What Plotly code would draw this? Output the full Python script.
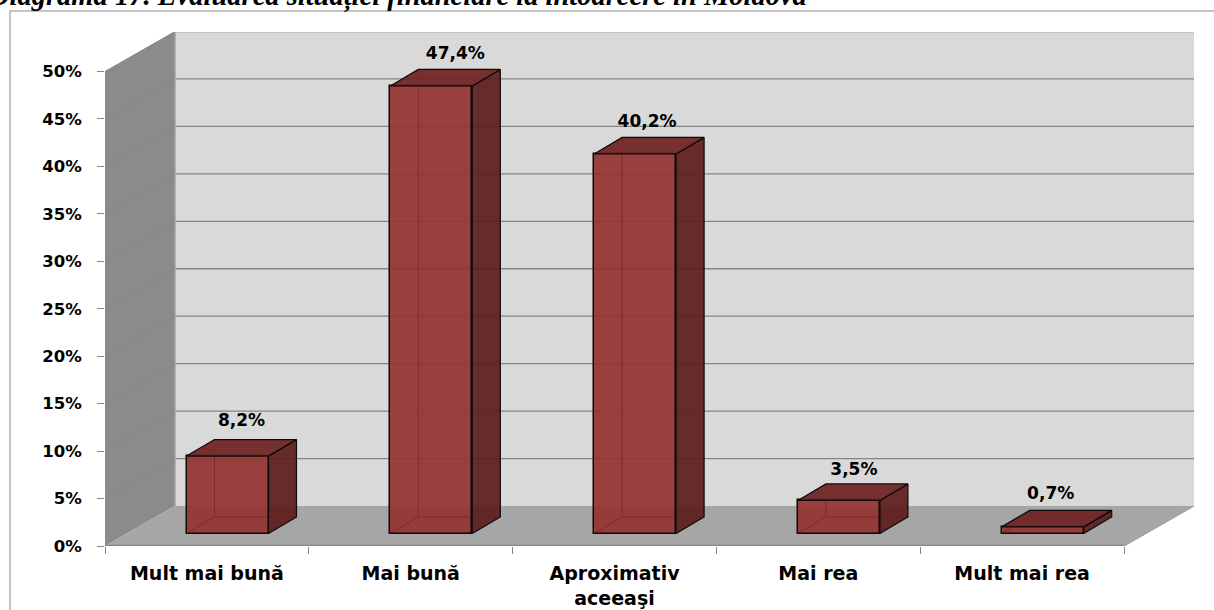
import plotly.graph_objects as go

categories = ["Mult mai bună", "Mai bună", "Aproximativ<br>aceeaşi", "Mai rea", "Mult mai rea"]
values = [8.2, 47.4, 40.2, 3.5, 0.7]
y_ticks = [0, 5, 10, 15, 20, 25, 30, 35, 40, 45, 50]
y_tick_labels = ["0%", "5%", "10%", "15%", "20%", "25%", "30%", "35%", "40%", "45%", "50%"]
title_text = "Diagrama 17. Evaluarea situației financiare la întoarcere în Moldova"

# plot geometry (pixels)
W, H = 1214, 610
L, R, T, B = 105, 20, 32, 64
cat_px = 203.8
pct_px = 9.49
x_max = (W - L - R) / cat_px
y_max = (H - T - B) / pct_px
n = len(categories)

# depth projection, in axis units
wall_dx = 70 / cat_px
wall_dy = 40 / pct_px
bar_dx = 28 / cat_px
bar_dy = 16.5 / pct_px
gap_dx = 20.6 / cat_px
gap_dy = 12.5 / pct_px
bar_w = 82 / cat_px
bar_scale = 0.995

SIDE_WALL, BACK_WALL, FLOOR, GRID = "#8b8b8b", "#d9d9d9", "#a6a6a6", "#868686"
FRONT, SIDE, TOP = "rgba(148,50,49,0.92)", "rgba(92,28,27,0.92)", "rgba(110,34,34,0.92)"


def poly(xs, ys, color):
    path = "M " + " L ".join(f"{x},{y}" for x, y in zip(xs, ys)) + " Z"
    return dict(type="path", path=path, xref="x", yref="y", fillcolor=color,
                line=dict(width=0), layer="below")


def seg(x0, y0, x1, y1, color, width):
    return dict(type="line", x0=x0, y0=y0, x1=x1, y1=y1, xref="x", yref="y",
                line=dict(color=color, width=width), layer="below")


wall_x = x_max - wall_dx
shapes = [
    poly([0, wall_dx, wall_dx, 0], [0, wall_dy, wall_dy + 50, 50], SIDE_WALL),
    poly([wall_dx, x_max, x_max, wall_dx], [wall_dy, wall_dy, wall_dy + 50, wall_dy + 50], BACK_WALL),
    poly([0, wall_dx, x_max, wall_x], [0, wall_dy, wall_dy, 0], FLOOR),
]
for t in y_ticks[1:]:
    shapes.append(seg(wall_dx, wall_dy + t, x_max, wall_dy + t, GRID, 1.3))
    shapes.append(seg(0, t, wall_dx, wall_dy + t, "#858585", 1))
shapes.append(seg(wall_dx, wall_dy, wall_dx, wall_dy + 50, "#a3a3a3", 1.5))
shapes.append(seg(0, 0, wall_x, 0, GRID, 2.5))
shapes.append(seg(wall_x, 0, x_max, wall_dy, "#a0a0a0", 1.2))
# outer chart frame
shapes.append(dict(type="rect", xref="paper", yref="paper",
                   x0=(10 - L) / (W - L - R), x1=(W + 10 - L) / (W - L - R),
                   y0=(H - T - B - (H + 10 - T)) / (H - T - B), y1=1 + (T - 11) / (H - T - B),
                   line=dict(color="#b3b3b3", width=1.5), layer="below"))

centers = [i + 0.5 + gap_dx for i in range(n)]
fig = go.Figure()
fig.add_trace(go.Bar(
    x=centers, y=[v * bar_scale for v in values], base=[gap_dy] * n, width=[bar_w] * n,
    marker=dict(color=FRONT, line=dict(color="#0a0a0a", width=1.5)),
    hoverinfo="skip", showlegend=False,
))

for c, v in zip(centers, values):
    x0, x1 = c - bar_w / 2, c + bar_w / 2
    y0, y1 = gap_dy, gap_dy + v * bar_scale
    # faint back edges seen through the translucent front
    fig.add_trace(go.Scatter(
        x=[x0, x0 + bar_dx, x1 + bar_dx, None, x0 + bar_dx, x0 + bar_dx],
        y=[y0, y0 + bar_dy, y0 + bar_dy, None, y0 + bar_dy, y1 + bar_dy],
        mode="lines", line=dict(color="rgba(100,25,25,0.45)", width=1),
        hoverinfo="skip", showlegend=False))
    # right side face
    fig.add_trace(go.Scatter(
        x=[x1, x1 + bar_dx, x1 + bar_dx, x1, x1],
        y=[y0, y0 + bar_dy, y1 + bar_dy, y1, y0],
        mode="lines", fill="toself", fillcolor=SIDE,
        line=dict(color="#0a0a0a", width=1.2), hoverinfo="skip", showlegend=False))
    # top face
    fig.add_trace(go.Scatter(
        x=[x0, x0 + bar_dx, x1 + bar_dx, x1, x0],
        y=[y1, y1 + bar_dy, y1 + bar_dy, y1, y1],
        mode="lines", fill="toself", fillcolor=TOP,
        line=dict(color="#0a0a0a", width=1.2), hoverinfo="skip", showlegend=False))

# data labels, set above the back edge of each bar
label_nudge_px = [14, 24, 12, 15, 8]
label_rise_px = [18, 15, 15, 13, 16]
fig.add_trace(go.Scatter(
    x=[c + nx / cat_px for c, nx in zip(centers, label_nudge_px)],
    y=[gap_dy + v * bar_scale + bar_dy + r / pct_px for v, r in zip(values, label_rise_px)],
    text=[f"{v:.1f}".replace(".", ",") + "%" for v in values],
    mode="text", textposition="middle center",
    textfont=dict(family="DejaVu Sans", size=17, color="#000000", weight="bold"),
    hoverinfo="skip", showlegend=False, cliponaxis=False,
))

fig.add_annotation(
    text=f"<b><i>{title_text}</i></b>", xref="paper", yref="paper",
    x=(-13 - L) / (W - L - R), y=1 + (T - 14) / (H - T - B),
    xanchor="left", yanchor="bottom", showarrow=False, borderpad=0,
    font=dict(family="Liberation Serif", size=28.5, color="#000000"),
)

fig.update_layout(
    width=W, height=H,
    margin=dict(l=L, r=R, t=T, b=B, autoexpand=False),
    paper_bgcolor="#ffffff", plot_bgcolor="#ffffff",
    shapes=shapes, bargap=0, showlegend=False,
    xaxis=dict(
        range=[0, x_max], tickmode="array",
        tickvals=[i + 0.5 for i in range(n)], ticktext=[f"<b>{c}</b>" for c in categories],
        ticks="", showgrid=False, zeroline=False, showline=False, ticklabelstandoff=14,
        tickfont=dict(family="DejaVu Sans", size=19, color="#000000"), tickangle=0,
        minor=dict(tickmode="array", tickvals=list(range(n + 1)), ticks="outside",
                   ticklen=7, tickcolor=GRID, tickwidth=1.3, showgrid=False),
    ),
    yaxis=dict(
        range=[0, y_max], tickmode="array", tickvals=y_ticks, ticktext=[f"<b>{t}</b>" for t in y_tick_labels],
        ticks="outside", ticklen=7, tickcolor=GRID, tickwidth=1.3,
        showgrid=False, zeroline=False, showline=False, ticklabelstandoff=12,
        tickfont=dict(family="DejaVu Sans", size=16.5, color="#000000"),
    ),
)
fig.write_html("out.html", config={"displayModeBar": False},
               post_script="document.body.style.margin='0';document.body.style.overflow='hidden';")
